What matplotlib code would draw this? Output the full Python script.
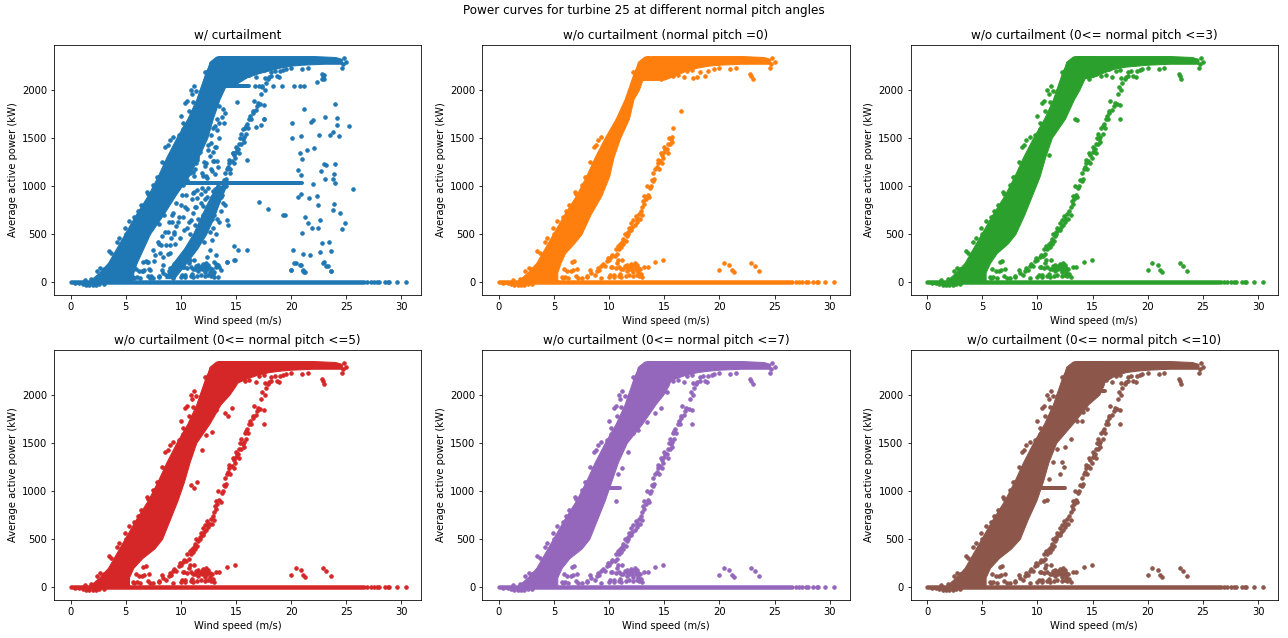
import matplotlib
matplotlib.use('Agg')
import matplotlib.pyplot as plt

# the clouds are too dense to read dot by dot, so their outlines are read off
# the picture and filled; only the dots that can be told apart are listed
titles = ['w/ curtailment', 'w/o curtailment (normal pitch =0)',
          'w/o curtailment (0<= normal pitch <=3)', 'w/o curtailment (0<= normal pitch <=5)',
          'w/o curtailment (0<= normal pitch <=7)', 'w/o curtailment (0<= normal pitch <=10)']
colors = ['C0', 'C1', 'C2', 'C3', 'C4', 'C5']

# main band, wind speed edges at each power level
band_power = [0, 100, 200, 300, 400, 500, 700, 900, 1100, 1300, 1500, 1700, 1900, 2000, 2100, 2200, 2300, 2350]
band_left = [1.6, 2.6, 3.4, 3.9, 4.4, 4.9, 5.9, 7.0, 7.9, 8.7, 9.6, 10.6, 11.4, 11.7, 12.0, 12.3, 12.8, 13.4]
right_curt = [5.6, 5.7, 6.0, 6.4, 6.8, 7.2, 8.4, 9.5, 10.7, 11.6, 12.4, 12.9, 13.5, 13.9, 14.3, 14.8, 14.8, 14.8]
right_p0 = [5.3, 5.3, 5.6, 6.0, 6.8, 7.5, 8.3, 9.3, 10.0, 10.4, 11.0, 11.8, 12.2, 12.7, 13.0, 13.2, 13.4, 13.6]
right_p3 = [5.3, 5.3, 5.7, 6.3, 7.3, 8.0, 8.8, 9.5, 10.2, 10.7, 11.3, 12.5, 13.3, 13.8, 14.2, 14.6, 14.8, 14.8]
right_p5 = [5.3, 5.3, 5.7, 6.5, 7.6, 8.3, 9.0, 9.7, 10.3, 10.8, 11.4, 12.6, 13.6, 14.4, 15.0, 15.4, 15.5, 15.5]
right_p7 = [5.3, 5.3, 5.7, 6.4, 7.5, 8.2, 8.9, 9.6, 10.2, 10.8, 11.6, 13.0, 14.2, 14.9, 15.4, 15.7, 15.7, 15.7]
right_p10 = [5.3, 5.3, 5.7, 6.5, 7.6, 8.4, 9.1, 9.9, 10.5, 11.0, 11.7, 13.2, 14.6, 15.6, 16.0, 16.2, 16.2, 16.2]
band_rights = [right_curt, right_p0, right_p3, right_p5, right_p7, right_p10]

# rated power block
top_wind = [12.2, 12.6, 13.2, 14, 15, 16, 17, 18, 19, 20, 21, 22, 23, 24, 24.6]
top_upper = [2130, 2290, 2345, 2350, 2350, 2350, 2350, 2350, 2350, 2350, 2350, 2350, 2345, 2340, 2320]
lower_curt = [2100, 2050, 2050, 2050, 2060, 2130, 2170, 2200, 2230, 2250, 2260, 2265, 2270, 2270, 2270]
lower_p0 = [2100, 2100, 2100, 2100, 2105, 2150, 2200, 2230, 2250, 2260, 2265, 2270, 2270, 2270, 2270]
lower_p3 = [2100, 2100, 2100, 2115, 2130, 2180, 2220, 2240, 2250, 2260, 2265, 2270, 2270, 2270, 2270]
lower_p5 = [2100, 2100, 2100, 2100, 2120, 2170, 2210, 2235, 2250, 2260, 2265, 2270, 2270, 2270, 2270]
lower_p7 = [2100, 2100, 2100, 2100, 2110, 2170, 2210, 2235, 2250, 2260, 2265, 2270, 2270, 2270, 2270]
lower_p10 = [2100, 2100, 2100, 2100, 2100, 2130, 2200, 2235, 2250, 2260, 2265, 2270, 2270, 2270, 2270]
top_lowers = [lower_curt, lower_p0, lower_p3, lower_p5, lower_p7, lower_p10]
rated_low_wind = [14.7, 15.3, 15.8, 16.2, 16.5, 16.8, 17.1, 17.5, 17.6, 18.0, 18.2, 18.7, 19.0, 19.5, 20.0, 21.0, 21.5]
rated_low_power = [2110, 2160, 2140, 2150, 2220, 2130, 2190, 2200, 2120, 2130, 2180, 2140, 2190, 2210, 2230, 2220, 2230]

# zero power line
base_wind = [0, 26.6]
base_power = [0, 0]
tail_wind = [26.9, 27.2, 27.5, 27.8, 28.0, 28.5, 28.8, 28.9, 29.6, 30.4]
tail_power = [0, 0, 0, 0, 0, 0, 0, 0, 0, 0]
dip_wind = [0.4, 0.8, 1.1, 1.4, 1.7, 2.0, 2.3, 2.6, 3.0, 1.3, 1.9]
dip_power = [-12, -15, -20, -28, -30, -30, -28, -25, -20, 18, 30]

# loose dots along the left side of the band
edge_wind = [2.4, 2.7, 3.0, 3.5, 3.7, 4.2, 4.4, 4.6, 4.9, 5.0, 5.3, 5.5, 5.8, 6.1, 6.4, 6.7, 6.9, 7.0,
             7.5, 7.8, 8.0, 8.3, 8.6, 8.6, 8.8, 9.0, 9.3, 9.6, 12.2]
edge_power = [110, 145, 130, 325, 300, 420, 460, 390, 560, 500, 635, 490, 680, 740, 800, 790, 940, 920,
              1010, 1095, 1090, 1250, 1240, 1400, 1420, 1480, 1510, 1400, 2180]
edge_high_wind = [9.8, 10.0, 10.2, 10.2, 10.4, 10.6, 10.9, 11.0, 11.2, 11.4, 11.8, 10.7, 11.1]
edge_high_power = [1530, 1730, 1650, 1590, 1860, 1880, 2000, 1950, 2040, 1990, 1990, 1780, 1870]

# second branch, right of the main band
branch_wind = [8.0, 8.4, 8.7, 9.0, 9.1, 9.4, 9.6, 9.9, 10.0, 10.3, 10.5, 10.7, 10.8, 11.0, 11.1, 11.3, 11.4, 11.5,
               11.7, 11.8, 12.0, 12.1, 12.2, 12.4, 12.5, 12.7, 12.8, 13.0, 13.1, 13.3, 13.5, 13.4, 13.7, 13.9, 14.0,
               14.1, 14.3, 14.4, 14.6, 14.7, 14.9, 15.0, 15.2, 15.3, 15.4, 15.6, 15.7, 15.8]
branch_power = [60, 90, 70, 150, 120, 190, 170, 250, 230, 280, 270, 290, 370, 400, 360, 450, 500, 430,
                520, 560, 610, 570, 640, 690, 620, 710, 650, 780, 840, 860, 900, 1000, 980, 1060, 1130,
                1070, 1200, 1240, 1260, 1340, 1290, 1350, 1380, 1430, 1500, 1490, 1510, 1600]
branch_more_wind = [8.9, 9.3, 9.8, 10.2, 10.9, 11.2, 11.6, 11.9, 12.3, 12.6, 12.9, 13.2, 13.6, 13.8, 14.2, 14.5, 14.8,
                    15.1, 15.3, 15.5, 15.7, 10.6, 11.3, 11.7, 12.0, 12.5, 13.0, 13.2, 14.0, 14.4, 14.8, 15.0]
branch_more_power = [110, 170, 220, 260, 340, 420, 480, 540, 590, 660, 740, 810, 880, 1000, 1180, 1180, 1320,
                     1380, 1340, 1440, 1460, 340, 400, 500, 540, 650, 700, 890, 1050, 1270, 1240, 1400]
upper_wind = [15.9, 16.0, 16.1, 16.2, 16.3, 16.4, 16.5, 16.6, 16.8, 16.9, 17.0, 17.2, 17.3, 17.4, 17.5, 17.5,
              17.6, 17.7, 17.9, 18.2, 18.5, 18.9, 19.3, 15.5, 15.9]
upper_power = [1540, 1640, 1600, 1700, 1730, 1700, 1760, 1880, 1790, 1830, 1860, 1850, 1950, 2030, 1700, 1840,
               2000, 2070, 2110, 2140, 2190, 2130, 2200, 1540, 1620]

# sparse group above the zero line
low_wind = [5.7, 5.9, 6.0, 6.2, 6.3, 6.5, 6.6, 6.7, 6.8, 7.1, 7.2, 7.5, 8.0, 8.3, 10.0, 10.2, 10.4, 10.6, 10.8, 10.9,
            11.0, 11.2, 11.3, 11.5, 11.6, 11.8, 11.9, 12.0, 12.2, 12.3, 12.4, 12.6, 12.7, 13.2, 13.5, 14.2, 14.9,
            10.4, 11.1, 11.6, 12.1, 12.5, 12.9, 5.8, 7.0, 9.3,
            10.3, 10.7, 11.1, 11.4, 11.7, 11.9, 12.1, 12.3, 12.4, 12.6, 12.8, 13.0, 11.6, 10.1, 10.9, 12.2, 12.5]
low_power = [50, 130, 50, 115, 40, 110, 210, 120, 215, 130, 40, 40, 50, 120, 50, 160, 70, 150, 230, 160,
             80, 230, 140, 60, 180, 70, 170, 190, 60, 180, 160, 100, 60, 160, 160, 210, 225,
             50, 50, 160, 130, 180, 80, 40, 60, 40,
             155, 195, 130, 170, 150, 130, 170, 195, 130, 150, 130, 50, 110, 70, 60, 100, 70]
far_wind = [20.0, 20.4, 20.9, 21.1, 21.3, 22.9, 23.2, 23.6, 22.8, 22.9, 23.0, 24.6, 24.8, 25.0, 24.7, 16.5]
far_power = [125, 198, 180, 120, 105, 198, 170, 118, 2165, 2140, 2110, 2225, 2330, 2285, 2270, 1780]

# dots to the right of the main band, panels 2 to 5
side_p3_wind = [13.4, 13.6, 11.0, 10.8]
side_p3_power = [1690, 1680, 1320, 1480]
side_p5_wind = [14.0, 13.2, 12.8, 12.3, 11.9, 11.5, 11.2, 10.9, 14.6, 14.3]
side_p5_power = [1810, 1840, 1610, 1580, 1420, 1090, 1030, 1060, 1860, 1780]
side_p7_wind = [14.2, 14.7, 15.0, 15.2, 14.0, 13.4, 12.6, 12.2, 11.7, 11.2, 10.8]
side_p7_power = [1810, 1860, 2040, 2030, 1960, 1720, 1630, 1600, 1400, 1240, 1170]
side_p10_wind = [12.0, 12.2, 11.8, 12.4, 12.5, 13.0, 13.6, 14.0, 14.1, 14.5, 11.0, 11.4, 10.9]
side_p10_power = [1180, 1300, 1430, 1250, 1460, 1540, 1730, 1730, 1820, 1850, 1120, 1300, 900]
side_winds = [[], [], side_p3_wind, side_p5_wind, side_p7_wind, side_p10_wind]
side_powers = [[], [], side_p3_power, side_p5_power, side_p7_power, side_p10_power]

# extra dots of the curtailed panel
curt_far_wind = [20.0, 20.3, 20.8, 21.1, 21.15, 20.2, 21.1, 21.7, 22.6, 22.8, 23.4, 23.6, 23.0, 23.3, 23.6, 21.0, 21.3,
                 21.5, 21.9, 22.4, 22.6, 24.6, 24.9, 24.4, 23.8, 23.9, 22.4, 22.3, 21.6, 20.9, 20.6, 25.6, 22.0, 24.0,
                 23.8, 23.1, 22.7, 23.9, 23.2, 23.0, 24.0, 20.6, 20.9, 21.0, 20.8, 21.4, 22.1, 20.1, 20.9, 20.1, 21.8,
                 22.0, 22.5, 23.5, 23.8, 24.3, 24.2, 24.2, 23.1, 25.2, 21.2, 24.0, 23.0, 22.8, 22.3, 20.3, 20.8, 21.2,
                 19.2, 18.4, 17.1, 17.9, 19.3, 19.4, 15.2, 16.0, 14.8, 14.8, 14.2, 15.1, 15.6, 16.0, 16.8, 17.3, 17.5]
curt_far_power = [128, 198, 180, 111, 104, 336, 295, 277, 312, 405, 416, 319, 205, 170, 114, 510, 676,
                  613, 562, 562, 648, 551, 613, 718, 752, 811, 804, 890, 873, 915, 884, 967, 1019, 1030,
                  1075, 1071, 1151, 1123, 1220, 1230, 1227, 1161, 1116, 1279, 1341, 1369, 1393, 1497, 1522, 1653, 1664,
                  1681, 1529, 1532, 1560, 1522, 1633, 1705, 1716, 1619, 1799, 1851, 2156, 2111, 2080, 2042, 2042, 2042,
                  2042, 2042, 832, 760, 700, 700, 336, 330, 370, 225, 208, 1870, 1590, 1270, 1610, 1630, 1700]
curt_mid_wind = [7.0, 7.2, 7.5, 7.6, 7.9, 8.1, 8.3, 8.4, 8.6, 8.7, 8.9, 9.0, 9.1, 9.3, 9.5, 9.6, 9.7, 9.9, 10.0,
                 10.2, 10.3, 10.5, 10.6, 10.7, 10.8, 11.0, 11.1, 11.2, 11.3, 11.4, 11.5, 11.6, 11.7, 11.8, 11.9, 12.0,
                 12.1, 12.2, 12.3, 12.4, 12.5, 12.6, 12.7, 12.8, 12.9, 13.0, 13.1, 13.2, 13.3, 13.4, 13.5, 13.6, 13.7,
                 13.8, 14.0, 14.1, 14.2, 14.3, 14.5, 14.7, 12.1, 12.3, 12.5, 12.7, 12.9, 13.1, 13.3, 13.5, 13.7, 13.9,
                 11.3, 11.5, 11.7, 11.9, 12.1, 12.3, 12.5, 12.7, 12.9, 13.1, 10.7, 10.9, 11.1, 11.3, 11.5, 11.7, 10.2,
                 10.4, 10.6, 10.8, 11.0, 11.2, 11.4, 12.0, 12.4, 12.6, 12.8, 13.0, 13.2, 13.4, 13.6, 13.0, 13.2, 13.4,
                 9.2, 9.4, 9.6, 9.8, 10.1, 10.4, 10.6, 10.9, 11.1, 11.3, 11.5, 11.8, 12.0, 12.2, 12.4, 12.7, 12.9, 13.1,
                 12.0, 12.2, 12.4, 12.6, 12.8, 13.0, 13.2, 13.4, 13.3, 13.5, 12.7, 12.9, 13.1, 13.3, 13.5, 13.8, 14.0,
                 8.0, 8.2, 8.5, 8.8, 9.0, 9.2, 9.4, 6.6, 6.9, 7.3, 7.7, 8.0, 8.4, 8.8]
curt_mid_power = [210, 120, 330, 220, 420, 300, 480, 260, 520, 380, 620, 300, 460, 720, 400, 580, 620, 460, 800,
                  680, 540, 900, 760, 620, 500, 860, 720, 940, 590, 780, 960, 660, 500, 820, 980, 700,
                  420, 860, 600, 770, 980, 520, 690, 880, 560, 740, 970, 500, 650, 840, 620, 740, 900,
                  820, 800, 1000, 640, 590, 1130, 1340, 1250, 1100, 1420, 1180, 1350, 1120, 1260, 1500, 1720, 1650,
                  1180, 1290, 1350, 1130, 1490, 1240, 1370, 1530, 1260, 1620, 1200, 1320, 1140, 1480, 1270, 1430, 1010,
                  1150, 1060, 1130, 1230, 1100, 1240, 150, 260, 330, 440, 210, 280, 180, 120, 100, 190, 50,
                  700, 520, 820, 680, 900, 780, 560, 640, 930, 780, 870, 920, 790, 950, 880, 830, 950, 890,
                  1100, 1210, 1080, 1310, 1150, 1260, 1400, 1200, 1580, 1650, 1450, 1600, 1400, 1700, 1830, 1800, 1760,
                  600, 380, 700, 520, 380, 620, 500, 110, 210, 60, 280, 390, 180, 290]
# dense lower arm of the curtailed panel
curt_arm_power = [40, 200, 350, 500, 650, 800, 1000]
curt_arm_left = [8.6, 9.3, 10.3, 11.1, 11.7, 12.3, 13.2]
curt_arm_right = [9.4, 10.5, 11.5, 12.3, 12.9, 13.4, 14.1]
rated_dip_wind = [13.0, 16.2]
rated_dip_power = [2040, 2040]
rated_dots_wind = [16.7, 17.1, 17.4]
rated_dots_power = [2040, 2040, 2040]
p10_rated_run = [14.7, 16.1]

# flat runs near 1030 kW, wind start and end for panels 0, 4 and 5
run_power = [1030, 1030]
run_curt = [10.0, 21.0]
run_p7 = [10.0, 11.0]
run_p10 = [10.0, 12.5]
p7_extra = [10.6]
p10_extra = [10.6]
extra_power = [890]


def draw_panel(ax, i):
    c = colors[i]
    ax.fill_betweenx(band_power, band_left, band_rights[i], color=c, lw=1)
    ax.fill_between(top_wind, top_lowers[i], top_upper, color=c, lw=1)
    ax.plot(base_wind, base_power, color=c, lw=4.5, solid_capstyle='round')
    for xs, ys in [(tail_wind, tail_power), (dip_wind, dip_power), (edge_wind, edge_power),
                   (low_wind, low_power), (far_wind, far_power), (rated_low_wind, rated_low_power),
                   (branch_wind, branch_power), (branch_more_wind, branch_more_power),
                   (side_winds[i], side_powers[i])]:
        ax.plot(xs, ys, '.', color=c, ms=7)
    if i != 1:
        # this panel's branch stops early and has no dots left of the top of the band
        ax.plot(upper_wind, upper_power, '.', color=c, ms=7)
        ax.plot(edge_high_wind, edge_high_power, '.', color=c, ms=7)
    if i == 0:
        ax.fill_betweenx(curt_arm_power, curt_arm_left, curt_arm_right, color=c, lw=1)
        ax.plot(curt_far_wind, curt_far_power, '.', color=c, ms=7)
        ax.plot(curt_mid_wind, curt_mid_power, '.', color=c, ms=7)
        ax.plot(rated_dots_wind, rated_dots_power, '.', color=c, ms=7)
        ax.plot(rated_dip_wind, rated_dip_power, color=c, lw=4, solid_capstyle='round')
        ax.plot(run_curt, run_power, color=c, lw=4, solid_capstyle='round')
    if i == 4:
        ax.plot(run_p7, run_power, color=c, lw=4, solid_capstyle='round')
        ax.plot(p7_extra, extra_power, '.', color=c, ms=7)
    if i == 5:
        ax.plot(run_p10, run_power, color=c, lw=4, solid_capstyle='round')
        ax.plot(p10_extra, extra_power, '.', color=c, ms=7)
        ax.plot(p10_rated_run, rated_dip_power, color=c, lw=4, solid_capstyle='round')
    ax.set_xlim(-1.5, 31.8)
    ax.set_ylim(-135, 2465)
    ax.set_xticks([0, 5, 10, 15, 20, 25, 30])
    ax.set_yticks([0, 500, 1000, 1500, 2000])
    ax.set_xlabel('Wind speed (m/s)')
    ax.set_ylabel('Average active power (kW)')
    ax.set_title(titles[i], fontsize=12)


fig, axes = plt.subplots(2, 3, figsize=(1288 / 72, 638 / 72), dpi=72)
for i, ax in enumerate(axes.flat):
    draw_panel(ax, i)
fig.suptitle('Power curves for turbine 25 at different normal pitch angles', fontsize=12, y=0.993)
fig.subplots_adjust(left=0.0419, right=0.9922, top=0.9295, bottom=0.0596, wspace=0.166, hspace=0.22)
plt.savefig('out.png', dpi=72)
plt.close(fig)
